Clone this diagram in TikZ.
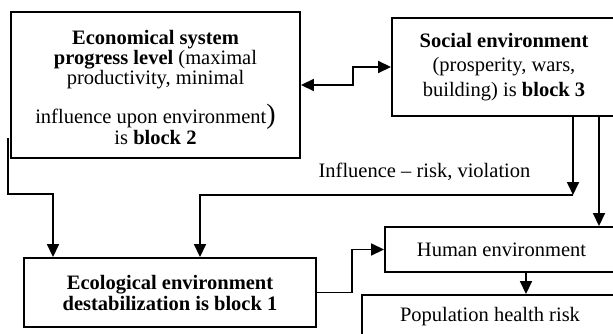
\documentclass[tikz,border=0pt]{standalone}
\usepackage{fontspec}
\setmainfont{Liberation Serif}
\usetikzlibrary{arrows.meta,calc}
\begin{document}
\begin{tikzpicture}[x=1pt,y=-1pt,
  box/.style={draw,line width=1.9pt,inner sep=0pt,align=center,font=\fontsize{20.5}{20}\selectfont},
  conn/.style={line width=1.7pt},
  arr/.style={conn,-{Triangle[width=12pt,length=13pt]}},
  dbl/.style={conn,{Triangle[width=12pt,length=13pt]}-{Triangle[width=12pt,length=13pt]}},
  lbl/.style={inner sep=0pt,font=\fontsize{20.5}{20}\selectfont}
]
\useasboundingbox (0,0) rectangle (613,334);

\node[box,minimum width=289pt,minimum height=146pt] (b2) at (155.5,85)
  {\rule{0pt}{19pt}\textbf{Economical system}\\ \textbf{progress level} (maximal\\ productivity, minimal\\[14pt] influence upon environment{\fontsize{28}{28}\selectfont)}\\[0pt] is \textbf{block 2}};

\node[box,minimum width=224pt,minimum height=98pt,font=\fontsize{20.5}{24.5}\selectfont] (b3) at (504,67)
  {\textbf{Social environment}\\ (prosperity, wars,\\ building) is \textbf{block 3}};

\node[box,minimum width=292pt,minimum height=69pt,font=\fontsize{20.5}{21}\selectfont] (b1) at (170,292.5)
  {\textbf{Ecological environment}\\ \textbf{destabilization is block 1}};

\node[box,minimum width=233pt,minimum height=45pt] (he) at (501.5,249.5) {Human environment};

\node[box,minimum width=256pt,minimum height=44pt] (pop) at (490,317) {Population health risk};

\node[lbl,anchor=base] (inf) at (424.5,177) {Influence – risk, violation};

\coordinate (r1) at (573,195);

\draw[dbl] (b2.east) -- ++(52,0) |- (b3.west);
\draw[arr] ([xshift=69pt]b3.south) -- (r1);
\draw[arr] (r1) -| ([xshift=30pt]b1.north);
\draw[arr] ([xshift=95pt]b3.south) -- ([xshift=95pt]b3.south |- he.north);
\draw[arr] ([xshift=-2pt,yshift=21pt]b2.south west) |- ([xshift=-117pt,yshift=63pt]b1.north) -- ([xshift=-117pt]b1.north);
\draw[arr] (b1.east) -- ++(35,0) |- (he.west);
\draw[arr] ([xshift=24.5pt]he.south) -- ([xshift=24.5pt]he.south |- pop.north);
\end{tikzpicture}
\end{document}
